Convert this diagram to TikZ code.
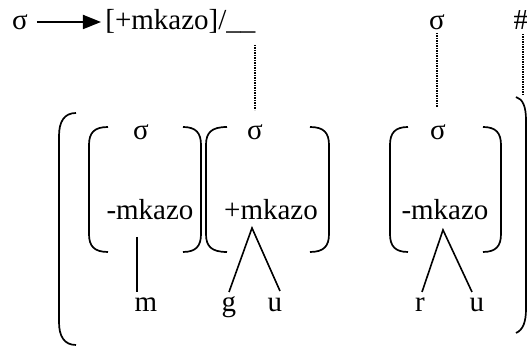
\documentclass[tikz,border=0pt]{standalone}
\usepackage{fontspec}
\setmainfont{Liberation Serif}
\usetikzlibrary{arrows.meta}
\begin{document}
\begin{tikzpicture}[x=0.5pt,y=-0.5pt,
  txt/.style={inner sep=0pt,anchor=base,font=\fontsize{14.5}{17}\selectfont},
  br/.style={line width=0.85pt},
  dots/.style={line width=0.9pt,dash pattern=on 0.7pt off 0.55pt},
  leg/.style={line width=0.8pt}]
\useasboundingbox (0,0) rectangle (527,346);
% top row
\node[txt] (s0) at (20,30) {σ};
\node[txt,anchor=base west] (rule) at (105,30) {[+mkazo]/\_\_};
\node[txt] (s4) at (437,30) {σ};
\node[txt] (hash) at (521,30) {\#};
\coordinate (a0) at (37,22);
\coordinate (a1) at (101,22);
\draw[line width=0.9pt,-{Triangle[length=9pt,width=7pt]}] (a0) -- (a1);
% dotted association lines
\coordinate (d1t) at (255,45); \coordinate (d1b) at (255,110);
\coordinate (d2t) at (437,33); \coordinate (d2b) at (437,107);
\coordinate (d3t) at (523,34); \coordinate (d3b) at (523,95);
\draw[dots] (d1t) -- (d1b);
\draw[dots] (d2t) -- (d2b);
\draw[dots] (d3t) -- (d3b);
% big parentheses
\draw[br] (76,113) .. controls (64,113) and (59,122) .. (59,136) -- (59,322) .. controls (59,336) and (64,345) .. (76,345);
\draw[br] (516,97) .. controls (523,99) and (526,107) .. (526,120) -- (526,309) .. controls (526,322) and (523,330) .. (516,333);
% inner brackets
\foreach \l/\lx/\r/\rx in {108/89/183/201, 227/206/310/329, 408/390/483/501}{
  \draw[br] (\l,127) .. controls (\lx+5,127) and (\lx,133) .. (\lx,145) -- (\lx,234) .. controls (\lx,246) and (\lx+5,252) .. (\l,252);
  \draw[br] (\r,127) .. controls (\rx-5,127) and (\rx,133) .. (\rx,145) -- (\rx,234) .. controls (\rx,246) and (\rx-5,252) .. (\r,252);
}
% syllable 1
\node[txt] (s1) at (141,140) {σ};
\node[txt] (f1) at (150,220) {-mkazo};
\node[txt] (m) at (146,312) {m};
\coordinate (p1) at (137,237);
\coordinate (m1) at (137,292);
\draw[leg] (p1) -- (m1);
% syllable 2
\node[txt] (s2) at (255,140) {σ};
\node[txt] (f2) at (271,220) {+mkazo};
\node[txt] (g) at (229,312) {g};
\node[txt] (u1) at (275,312) {u};
\coordinate (p2) at (252,228);
\coordinate (g1) at (229,292);
\coordinate (u1t) at (280,291);
\draw[leg] (g1) -- (p2) -- (u1t);
% syllable 3
\node[txt] (s3) at (438,140) {σ};
\node[txt] (f3) at (445,220) {-mkazo};
\node[txt] (r) at (420,312) {r};
\node[txt] (u2) at (477,312) {u};
\coordinate (p3) at (443,230);
\coordinate (r1) at (422,292);
\coordinate (u2t) at (472,292);
\draw[leg] (r1) -- (p3) -- (u2t);
\end{tikzpicture}
\end{document}
